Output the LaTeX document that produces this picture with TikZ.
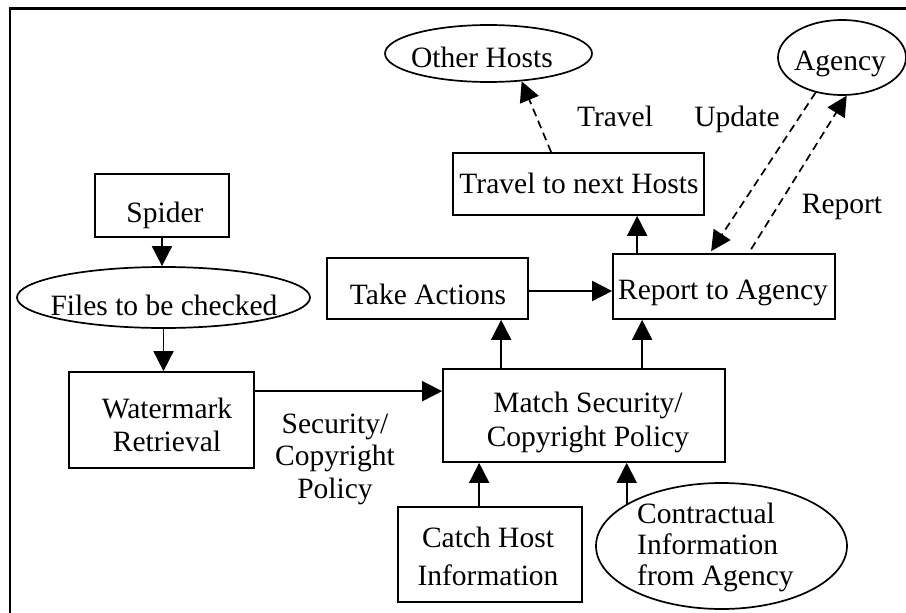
\documentclass[tikz,border=0pt]{standalone}
\usepackage{fontspec}
\setmainfont{Liberation Serif}
\usetikzlibrary{arrows.meta,shapes.geometric}
\begin{document}
\begin{tikzpicture}[x=1pt,y=-1pt,
  box/.style={draw, line width=1.7pt, inner sep=0pt, rectangle},
  oval/.style={draw, line width=1.7pt, inner sep=0pt, ellipse},
  lbl/.style={inner sep=0pt, font=\fontsize{29.5}{33}\selectfont, align=center},
  arr/.style={line width=1.7pt, -{Triangle[length=20pt,width=20pt]}},
  darr/.style={arr, dash pattern=on 8pt off 5pt}]
\useasboundingbox (0,0) rectangle (906,613);

% outer frame (only left and top edges fall inside the page)
\draw[line width=2.4pt] (10,620) -- (10,8.3) -- (915,8.3);

% shapes
\node[box, minimum width=134pt, minimum height=63pt] (spider) at (162,205.5) {};
\node[oval, minimum width=293pt, minimum height=61pt] (files) at (163.5,297.5) {};
\node[box, minimum width=185pt, minimum height=96pt] (water) at (161.5,420) {};
\node[box, minimum width=201pt, minimum height=61pt] (take) at (427.5,288.5) {};
\node[box, minimum width=222pt, minimum height=65pt] (report) at (724,286.5) {};
\node[box, minimum width=251pt, minimum height=62pt] (travel) at (578.5,184) {};
\node[box, minimum width=282pt, minimum height=93pt] (match) at (584,415.5) {};
\node[box, minimum width=184pt, minimum height=95pt] (catch) at (490,554.5) {};
\node[oval, minimum width=251pt, minimum height=126pt] (contract) at (721.5,546) {};
\node[oval, minimum width=207pt, minimum height=57pt] (other) at (488.5,53.5) {};
\node[oval, minimum width=128pt, minimum height=75pt] (agency) at (842,57.5) {};

% texts inside the shapes (base anchor = baseline of the last line)
\node[lbl, anchor=base] (spiderT) at (165,222) {Spider};
\node[lbl, anchor=base] (filesT) at (164,315) {Files to be checked};
\node[lbl, anchor=base] (waterT) at (167,451) {Watermark\\Retrieval};
\node[lbl, anchor=base] (takeT) at (428,304) {Take Actions};
\node[lbl, anchor=base] (reportT) at (723,299) {Report to Agency};
\node[lbl, anchor=base] (travelT) at (579,193) {Travel to next Hosts};
\node[lbl, anchor=base, font=\fontsize{29.5}{34}\selectfont] (matchT) at (588,446) {Match Security/\\Copyright Policy};
\node[lbl, anchor=base, font=\fontsize{29.5}{38}\selectfont] (catchT) at (488,585) {Catch Host\\Information};
\node[lbl, anchor=base west, align=left, font=\fontsize{29.5}{31}\selectfont] (contractT) at (637,585) {Contractual\\Information\\from Agency};
\node[lbl, anchor=base] (otherT) at (482,67) {Other Hosts};
\node[lbl, anchor=base] (agencyT) at (840,70) {Agency};

% connector labels
\node[lbl, anchor=base, font=\fontsize{29.5}{32.5}\selectfont] (policyL) at (335,498) {Security/\\Copyright\\Policy};
\node[lbl, anchor=base] (travelL) at (615,126) {Travel};
\node[lbl, anchor=base] (updateL) at (737,126) {Update};
\node[lbl, anchor=base] (reportL) at (842,213) {Report};

% solid connectors
\draw[arr] (spider.south) -- (spider.south |- files.north);
\draw[arr] (files.south) -- (files.south |- water.north);
\draw[arr] ([yshift=-20pt]water.north east) -- ([yshift=-20pt]water.north east -| match.west);
\draw[arr] ([xshift=59pt]match.north west) -- ([xshift=59pt]match.north west |- take.south);
\draw[arr] ([xshift=200pt]match.north west) -- ([xshift=200pt]match.north west |- report.south);
\draw[arr] ([yshift=-2.5pt]take.east) -- ([yshift=-2.5pt]take.east -| report.west);
\draw[arr] ([xshift=25pt]report.north west) -- ([xshift=25pt]report.north west |- travel.south);
\draw[arr] ([xshift=82pt]catch.north west) -- ([xshift=82pt]catch.north west |- match.south);
\draw[arr] (contract.156.3) -- (contract.156.3 |- match.south);

% dashed connectors
\draw[darr] ([xshift=99pt]travel.north west) -- (other.-40);
\draw[darr] (agency.-127) -- ([xshift=99pt,yshift=2pt]report.north west);
\draw[darr] ([xshift=139pt,yshift=4pt]report.north west) -- (agency.-83);
\end{tikzpicture}
\end{document}
